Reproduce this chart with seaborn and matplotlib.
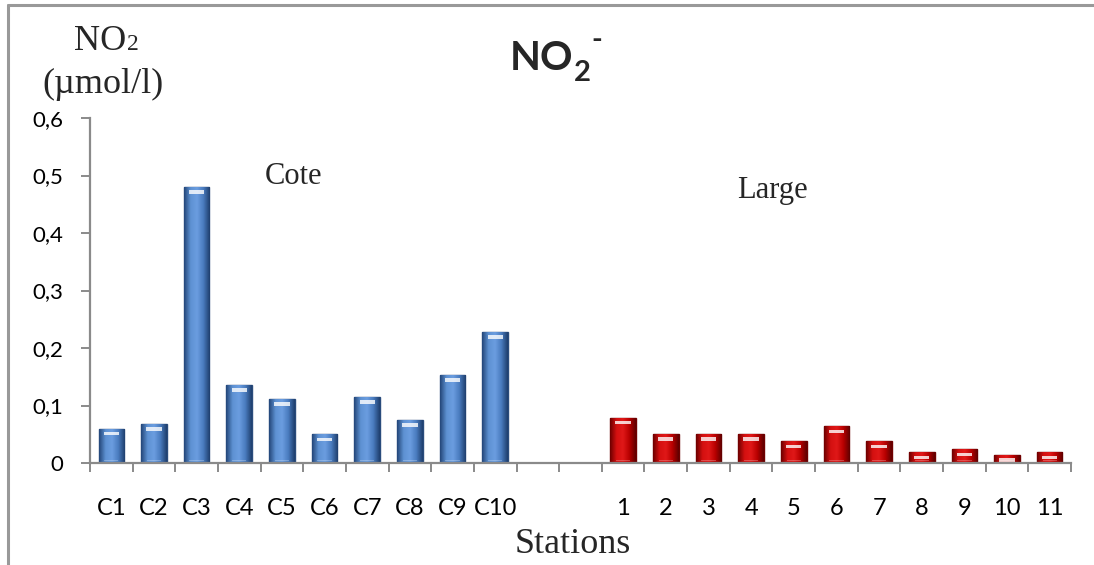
import numpy as np
import pandas as pd
import matplotlib
matplotlib.use("Agg")
import matplotlib.pyplot as plt
import seaborn as sns
from matplotlib.lines import Line2D
from matplotlib.patches import Rectangle
from matplotlib.colors import LinearSegmentedColormap

# ---- data ----
cote_stations = ["C1", "C2", "C3", "C4", "C5", "C6", "C7", "C8", "C9", "C10"]
cote_values = [0.060, 0.068, 0.480, 0.136, 0.112, 0.050, 0.115, 0.075, 0.153, 0.228]
large_stations = ["1", "2", "3", "4", "5", "6", "7", "8", "9", "10", "11"]
large_values = [0.079, 0.051, 0.051, 0.051, 0.038, 0.064, 0.038, 0.019, 0.024, 0.014, 0.019]
gap_slots = [" ", "  "]
y_ticks = [0.0, 0.1, 0.2, 0.3, 0.4, 0.5, 0.6]
y_tick_labels = ["0", "0,1", "0,2", "0,3", "0,4", "0,5", "0,6"]

df = pd.DataFrame({
    "station": cote_stations + large_stations,
    "value": cote_values + large_values,
    "group": ["Cote"] * len(cote_stations) + ["Large"] * len(large_stations),
})
order = cote_stations + gap_slots + large_stations

W, H = 1094, 565
sns.set_theme(style="white")
plt.rcParams["font.family"] = ["Lato", "DejaVu Sans"]

fig = plt.figure(figsize=(W / 100, H / 100), dpi=100)
ax = fig.add_axes([90 / W, 102 / H, 981 / W, 345 / H])

palette = {"Cote": "#4F81BD", "Large": "#C00000"}
sns.barplot(data=df, x="station", y="value", hue="group", order=order,
            palette=palette, dodge=False, width=0.6, ax=ax, legend=False,
            saturation=1)

grad = {
    "Cote": LinearSegmentedColormap.from_list("b", ["#24477a", "#5d91d2", "#6b9de0", "#4a7cbf", "#1f3f6e"]),
    "Large": LinearSegmentedColormap.from_list("r", ["#6e0000", "#d41010", "#e01818", "#b80000", "#600000"]),
}
edge = {"Cote": "#2a4c7c", "Large": "#700000"}

gradient = np.linspace(0, 1, 64).reshape(1, -1)
for p in list(ax.patches):
    h = p.get_height()
    if not np.isfinite(h) or h <= 0:
        continue
    fc = p.get_facecolor()
    g = "Cote" if fc[2] > fc[0] else "Large"
    x0, w = p.get_x(), p.get_width()
    im = ax.imshow(gradient, extent=[x0, x0 + w, 0, h], cmap=grad[g],
                   aspect="auto", zorder=p.get_zorder() + 0.1, origin="lower")
    im.set_clip_path(p)
    p.set_edgecolor(edge[g])
    p.set_linewidth(1.0)
    # highlight near top
    hl = Rectangle((x0 + w * 0.2, h - 0.012), w * 0.6, 0.006,
                   facecolor="white", alpha=0.8, edgecolor="none",
                   zorder=p.get_zorder() + 0.2)
    ax.add_patch(hl)
    # faint light line near base
    bl = Rectangle((x0 + w * 0.22, 0.004), w * 0.56, 0.002,
                   facecolor="white", alpha=0.25, edgecolor="none",
                   zorder=p.get_zorder() + 0.2)
    ax.add_patch(bl)

ax.set_xlim(-0.5, len(order) - 0.5)
ax.set_ylim(0, 0.6)
ax.set_yticks(y_ticks)
ax.set_yticklabels(y_tick_labels)
ax.set_xlabel("")
ax.set_ylabel("")

spine_col = "#8a8a8a"
for s in ["top", "right"]:
    ax.spines[s].set_visible(False)
for s in ["left", "bottom"]:
    ax.spines[s].set_color(spine_col)
    ax.spines[s].set_linewidth(1.6)

ax.tick_params(axis="y", which="major", direction="out", length=6.5, width=1.4,
               color=spine_col, labelsize=16, pad=13, left=True, labelcolor="black")
ax.set_xticks(np.arange(-0.5, len(order), 1.0), minor=True)
ax.tick_params(axis="x", which="minor", direction="out", length=6.5, width=1.4,
               color=spine_col, bottom=True)
ax.tick_params(axis="x", which="major", length=0, labelsize=17, pad=25,
               labelcolor="black")

def fx(px):
    return px / W

def fy(py):
    return 1 - py / H

serif = ["Liberation Serif", "DejaVu Serif"]
# y label
fig.text(fx(126), fy(50), "NO", family=serif, fontsize=26, ha="right", va="baseline")
fig.text(fx(127), fy(50), "2", family=serif, fontsize=17, ha="left", va="baseline")
fig.text(fx(103), fy(93), "(µmol/l)", family=serif, fontsize=26, ha="center", va="baseline")

# group labels
fig.text(fx(293), fy(184), "Cote", family=serif, fontsize=22, ha="center", va="baseline")
fig.text(fx(772), fy(198), "Large", family=serif, fontsize=22, ha="center", va="baseline")

# x label
fig.text(fx(573), fy(553), "Stations", family=serif, fontsize=26, ha="center", va="baseline")

# title NO2-
fig.text(fx(510), fy(70), "NO", fontsize=29, fontweight="bold", ha="left", va="baseline")
fig.text(fx(574), fy(81), "2", fontsize=21, fontweight="bold", ha="left", va="baseline")
fig.text(fx(591), fy(48), "-", fontsize=21, fontweight="bold", ha="left", va="baseline")

# outer frame (top and left)
fig.add_artist(Line2D([fx(8), 1], [fy(5), fy(5)], color="#999999", lw=2.2,
                      transform=fig.transFigure))
fig.add_artist(Line2D([fx(8), fx(8)], [fy(5), 0], color="#999999", lw=2.2,
                      transform=fig.transFigure))

fig.savefig("out.png", dpi=100, facecolor="white")
